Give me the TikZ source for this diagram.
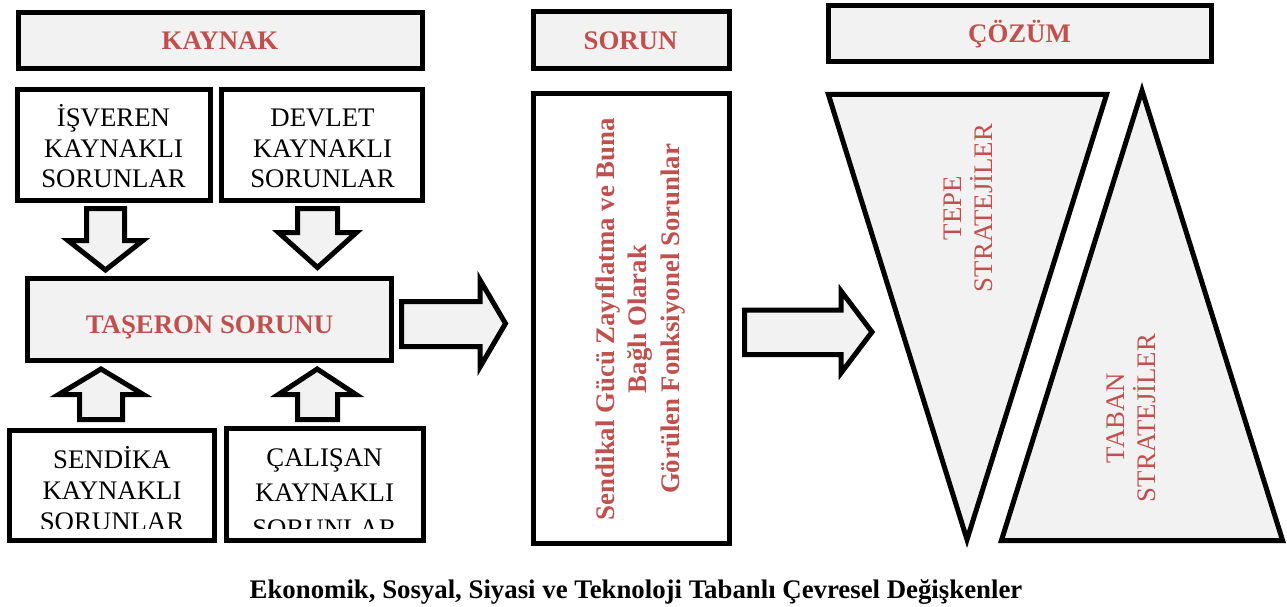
\documentclass[tikz,border=0pt]{standalone}
\usepackage{fontspec}
\setmainfont{Liberation Serif}
\definecolor{hdrred}{HTML}{C0504D}
\definecolor{boxgray}{HTML}{F2F2F2}
\newcommand{\stk}[1]{\begin{tabular}[t]{@{}c@{}}#1\end{tabular}}
\newcommand{\stkc}[1]{\begin{tabular}{@{}c@{}}#1\end{tabular}}
\begin{document}
\begin{tikzpicture}[x=1pt,y=-1pt,
  frame/.style={draw=black, line width=5pt, fill=boxgray, inner sep=0pt, outer sep=0pt},
  wbox/.style={frame, fill=white},
  hdr/.style={text=hdrred, font=\fontsize{26.8}{30}\selectfont\bfseries, inner sep=0pt, anchor=base},
  body/.style={font=\fontsize{26.8}{30.5}\selectfont, inner sep=0pt, anchor=base},
  blockarrow/.style={draw=black, line width=5pt, fill=boxgray, line join=miter},
  tri/.style={draw=black, line width=5pt, fill=boxgray, line join=miter},
  vtext/.style={text=hdrred, inner sep=0pt, rotate=90, anchor=center},
]
\useasboundingbox (0,0) rectangle (1287,607);

% headers
\node[frame, minimum width=404pt, minimum height=56pt] (kaynak) at (220.5,40.5) {};
\node[hdr] (kaynakt) at (220,50) {KAYNAK};
\node[frame, minimum width=196pt, minimum height=57pt] (sorunh) at (631.5,40) {};
\node[hdr] (sorunht) at (630.5,50) {SORUN};
\node[frame, minimum width=383pt, minimum height=56pt] (cozum) at (1020,33.5) {};
\node[hdr] (cozumt) at (1019.5,43) {ÇÖZÜM};

% source boxes
\node[wbox, minimum width=193pt, minimum height=111pt] (isv) at (114,145) {};
\node[body] (isvt) at (113.5,127) {\stk{İŞVEREN\\KAYNAKLI\\SORUNLAR}};
\node[wbox, minimum width=201pt, minimum height=111pt] (dev) at (322,145) {};
\node[body] (devt) at (322.5,127) {\stk{DEVLET\\KAYNAKLI\\SORUNLAR}};

\node[frame, minimum width=364pt, minimum height=82pt] (tas) at (209.5,319.5) {};
\node[hdr] (tast) at (209.5,333) {TAŞERON SORUNU};

\node[wbox, minimum width=205pt, minimum height=110pt] (sen) at (112,485.5) {};
\node[wbox, minimum width=197pt, minimum height=112pt] (cal) at (325,484.5) {};
\begin{scope}
\clip (9.5,430.5) rectangle (423.5,528);
\node[body, font=\fontsize{26.8}{31}\selectfont] (sent) at (112,468) {\stk{SENDİKA\\KAYNAKLI\\SORUNLAR}};
\node[body, font=\fontsize{26.8}{35.7}\selectfont] (calt) at (324.5,466) {\stk{ÇALIŞAN\\KAYNAKLI\\SORUNLAR}};
\end{scope}

% block arrows into TAŞERON
\draw[blockarrow] (86.5,208.5) -- (124.5,208.5) -- (124.5,240.5) -- (143,240.5) -- (105.5,270) -- (68,240.5) -- (86.5,240.5) -- cycle;
\draw[blockarrow] (297.5,208.5) -- (337.5,208.5) -- (337.5,232.5) -- (356.5,232.5) -- (317.5,267.5) -- (278.5,232.5) -- (297.5,232.5) -- cycle;
\draw[blockarrow] (79.5,419.5) -- (122.5,419.5) -- (122.5,394.5) -- (143.3,394.5) -- (101,369) -- (58.7,394.5) -- (79.5,394.5) -- cycle;
\draw[blockarrow] (297.5,419.5) -- (337.5,419.5) -- (337.5,394.5) -- (356,394.5) -- (317.2,369) -- (278.4,394.5) -- (297.5,394.5) -- cycle;

% problem box
\node[wbox, minimum width=196pt, minimum height=450pt] (sorun) at (631.5,318.5) {};
\node[vtext, font=\fontsize{26.8}{32.5}\selectfont\bfseries] (sorunt) at (640,319) {\stkc{Sendikal Gücü Zayıflatma ve Buna\\Bağlı Olarak\\Görülen Fonksiyonel Sorunlar}};

% big right arrows
\draw[blockarrow] (401.5,301.5) -- (480,301.5) -- (480,280) -- (505.5,323.5) -- (480,367) -- (480,346.5) -- (401.5,346.5) -- cycle;
\draw[blockarrow] (744.5,310) -- (841,310) -- (841,291) -- (872,332) -- (841,373) -- (841,354.5) -- (744.5,354.5) -- cycle;

% solution triangles
\draw[tri] (828.4,94.5) -- (1106.6,94.5) -- (967,539.6) -- cycle;
\node[vtext, font=\fontsize{26.8}{30}\selectfont] (tepet) at (971,208) {\stkc{TEPE\\STRATEJİLER}};
\draw[tri] (1142,90.5) -- (1282.6,540.5) -- (1001.4,540.5) -- cycle;
\node[vtext, font=\fontsize{26.8}{31}\selectfont] (tabant) at (1133.5,418) {\stkc{TABAN\\STRATEJİLER}};

% footer
\node[body, font=\fontsize{26.8}{30}\selectfont\bfseries] (footer) at (636,598) {Ekonomik, Sosyal, Siyasi ve Teknoloji Tabanlı Çevresel Değişkenler};
\end{tikzpicture}
\end{document}
